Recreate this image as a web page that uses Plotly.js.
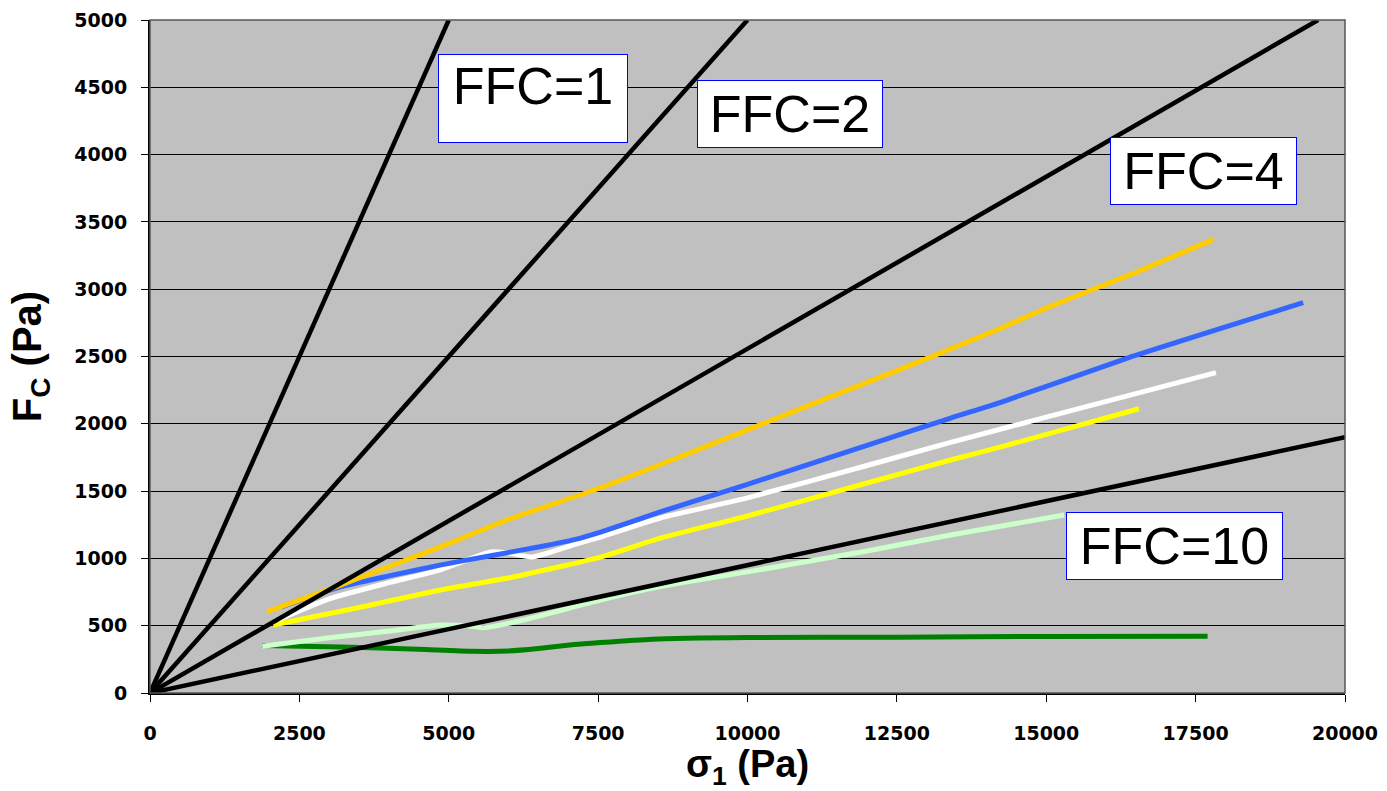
<!DOCTYPE html>
<html>
<head>
<meta charset="utf-8">
<script src="https://cdn.plot.ly/plotly-3.0.1.min.js"></script>
<style>html,body{margin:0;padding:0;background:#fff;}#chart{width:1387px;height:791px;}</style>
</head>
<body>
<div id="chart"></div>
<script>
// FFC reference lines (sigma1, Fc)
const ffc1X = [0, 5000],   ffc1Y = [0, 5000];
const ffc2X = [0, 10000],  ffc2Y = [0, 5000];
const ffc4X = [0, 19550],  ffc4Y = [0, 5000];
const ffc10X = [0, 20000], ffc10Y = [0, 1900];

// Measured flow functions
const orangeX = [1960, 3000, 4000, 5000, 6000, 7540, 8500, 10000, 11500, 12500, 14240, 15000, 16500, 17800];
const orangeY = [605, 770, 940, 1110, 1290, 1525, 1690, 1955, 2220, 2395, 2710, 2860, 3125, 3370];

const blueX = [2200, 3200, 4000, 4850, 5700, 6500, 7100, 7540, 8540, 10000, 12000, 13400, 14240, 16370, 19300];
const blueY = [640, 790, 870, 950, 1020, 1085, 1140, 1196, 1345, 1550, 1840, 2043, 2160, 2490, 2900];

const whiteX = [2150, 3000, 4000, 4860, 5700, 6000, 6400, 7085, 7540, 8540, 10000, 12000, 13400, 15000, 17840];
const whiteY = [545, 700, 820, 915, 1048, 1040, 1010, 1100, 1159, 1300, 1450, 1690, 1862, 2050, 2380];

const yellowX = [2060, 3500, 4860, 6080, 7540, 8540, 10000, 12000, 13400, 14240, 16550];
const yellowY = [505, 635, 765, 862, 1010, 1150, 1315, 1560, 1731, 1828, 2112];

const lightGreenX = [1880, 3000, 4000, 4860, 5300, 5600, 6250, 7540, 8540, 10000, 12000, 13400, 15300];
const lightGreenY = [348, 410, 460, 505, 500, 485, 542, 690, 790, 900, 1055, 1174, 1322];

const darkGreenX = [1880, 3200, 4500, 5400, 6000, 6500, 7100, 7540, 8400, 10000, 12500, 15000, 17700];
const darkGreenY = [352, 342, 325, 310, 312, 330, 360, 375, 400, 412, 415, 420, 422];

const ffcLabels = ['FFC=1', 'FFC=2', 'FFC=4', 'FFC=10'];
const xTicks = [0, 2500, 5000, 7500, 10000, 12500, 15000, 17500, 20000];
const yTicks = [0, 500, 1000, 1500, 2000, 2500, 3000, 3500, 4000, 4500, 5000];

function curve(x, y, color, w) {
  return {x: x, y: y, type: 'scatter', mode: 'lines', hoverinfo: 'skip',
          line: {color: color, width: w, shape: 'spline', smoothing: 0.5}, showlegend: false};
}
function ffcLine(x, y) {
  return {x: x, y: y, type: 'scatter', mode: 'lines', hoverinfo: 'skip',
          line: {color: '#000000', width: 4.5}, showlegend: false, cliponaxis: true};
}

const data = [
  curve(darkGreenX, darkGreenY, '#008000', 5),
  curve(lightGreenX, lightGreenY, '#CCFFCC', 5),
  curve(yellowX, yellowY, '#FFFF00', 5),
  curve(whiteX, whiteY, '#FFFFFF', 5),
  curve(blueX, blueY, '#3366FF', 5),
  curve(orangeX, orangeY, '#FFCC00', 5),
  ffcLine(ffc1X, ffc1Y),
  ffcLine(ffc2X, ffc2Y),
  ffcLine(ffc4X, ffc4Y),
  ffcLine(ffc10X, ffc10Y)
];

const boxFont = {family: 'Liberation Sans, Arial, sans-serif', size: 52, color: '#000000'};
function box(text, x, y, w, h, valign) {
  const a = {text: text, xref: 'paper', yref: 'paper', x: x, y: y, xanchor: 'center', yanchor: 'middle',
             showarrow: false, bgcolor: '#FFFFFF', bordercolor: '#0000FF', borderwidth: 1, borderpad: 4,
             font: boxFont, width: w, align: 'center'};
  if (h) { a.height = h; a.valign = valign || 'middle'; a.borderpad = 2; }
  return a;
}

const layout = {
  width: 1387, height: 791,
  margin: {l: 150, r: 42, t: 20, b: 98},
  paper_bgcolor: '#FFFFFF',
  plot_bgcolor: '#C0C0C0',
  showlegend: false,
  xaxis: {
    range: [0, 20000], tickmode: 'array', tickvals: xTicks, ticktext: xTicks.map(String),
    showgrid: false, zeroline: false, showline: true, linecolor: '#000000', linewidth: 2,
    ticks: 'outside', ticklen: 7, tickcolor: '#000000', tickwidth: 1, ticklabelstandoff: 15,
    tickfont: {family: 'DejaVu Sans, sans-serif', size: 19, weight: 'bold', color: '#000000'},
    title: {text: 'σ<sub>1</sub> (Pa)', standoff: 14,
            font: {family: 'Liberation Sans, Arial, sans-serif', size: 38, weight: 'bold', color: '#000000'}}
  },
  yaxis: {
    range: [0, 5000], tickmode: 'array', tickvals: yTicks, ticktext: yTicks.map(String),
    showgrid: true, gridcolor: '#000000', gridwidth: 1, zeroline: false,
    showline: true, linecolor: '#000000', linewidth: 2,
    ticks: 'outside', ticklen: 7, tickcolor: '#000000', tickwidth: 1, ticklabelstandoff: 10,
    tickfont: {family: 'DejaVu Sans, sans-serif', size: 19, weight: 'bold', color: '#000000'},
    title: {text: 'F<sub>C</sub> (Pa)', standoff: 20,
            font: {family: 'Liberation Sans, Arial, sans-serif', size: 40, weight: 'bold', color: '#000000'}}
  },
  shapes: [
    {type: 'rect', xref: 'paper', yref: 'paper', x0: 0, x1: 1, y0: 0, y1: 1,
     line: {color: '#555555', width: 1.5}, layer: 'above'}
  ],
  annotations: [
    box(ffcLabels[0], 0.3208, 0.8834, 184, 83, 'top'),
    box(ffcLabels[1], 0.5352, 0.8596, 176),
    box(ffcLabels[2], 0.8815, 0.7749, 177),
    box(ffcLabels[3], 0.8572, 0.2184, 207)
  ]
};

Plotly.newPlot('chart', data, layout, {displayModeBar: false, staticPlot: true});
</script>
</body>
</html>
